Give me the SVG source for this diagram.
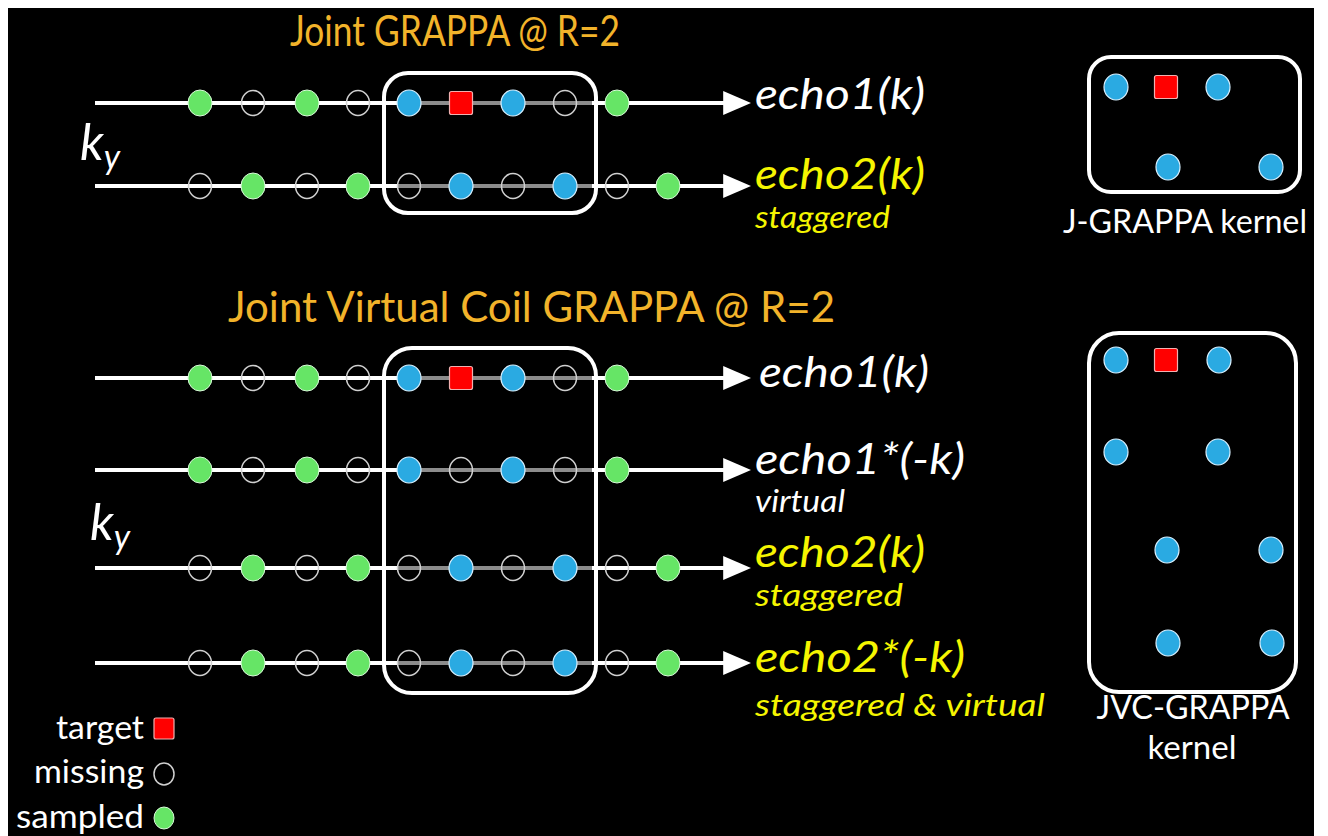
<svg xmlns="http://www.w3.org/2000/svg" width="1328" height="836" viewBox="0 0 1328 836">
  <defs>
    <style>
      .title { font-family: Lato, "Open Sans", sans-serif; fill: #F2B32A; }
      .lbl { font-family: Lato, "Open Sans", sans-serif; font-style: italic; font-size: 42px; }
      .sub { font-family: Lato, "Open Sans", sans-serif; font-style: italic; font-size: 30px; }
      .plain { font-family: Lato, "Open Sans", sans-serif; font-size: 33px; fill: #FFFFFF; }
      .ky { font-family: Lato, "Open Sans", sans-serif; font-style: italic; font-size: 50px; fill: #FFFFFF; }
      .axis { stroke: #FFFFFF; stroke-width: 4; fill: none; }
      .inner { stroke: #8C8C8C; stroke-width: 4; fill: none; }
      .win { stroke: #FFFFFF; stroke-width: 4; fill: none; }
      .s { fill: #66E566; stroke: #D8F8D8; stroke-width: 1; }
      .b { fill: #2AAAE2; stroke: #D8F0FF; stroke-width: 1.2; }
      .m { fill: none; stroke: #D0D0D0; stroke-width: 1.5; }
      .t { fill: #FF0000; stroke: #F0B0B0; stroke-width: 1.2; }
      .w { fill: #FFFFFF; }
      .y { fill: #F5F500; }
    </style>
    <marker id="arrow" markerWidth="7" markerHeight="6" refX="0.2" refY="3" orient="auto" markerUnits="strokeWidth">
      <path d="M0,0 L7,3 L0,6 Z" fill="#FFFFFF"/>
    </marker>
    <ellipse id="S" class="s" rx="12" ry="13"/>
    <ellipse id="B" class="b" rx="12" ry="13"/>
    <ellipse id="M" class="m" rx="11.5" ry="12.5"/>
    <rect id="T" class="t" x="-11.5" y="-11.5" width="23" height="23" rx="2"/>
  </defs>

  <rect x="0" y="0" width="1328" height="836" fill="#FFFFFF"/>
  <rect x="8" y="8" width="1306" height="828" fill="#000000"/>

  <!-- section titles -->
  <text class="title" x="290" y="46" font-size="42" textLength="330" lengthAdjust="spacingAndGlyphs">Joint GRAPPA @ R=2</text>
  <text class="title" x="228" y="322" font-size="42" textLength="607" lengthAdjust="spacingAndGlyphs">Joint Virtual Coil GRAPPA @ R=2</text>

  <!-- k-space lines -->
  <g id="connectors">
    <line class="axis" x1="95" y1="103" x2="724" y2="103" marker-end="url(#arrow)"/>
    <line class="axis" x1="95" y1="186" x2="724" y2="186" marker-end="url(#arrow)"/>
    <line class="axis" x1="95" y1="378" x2="724" y2="378" marker-end="url(#arrow)"/>
    <line class="axis" x1="95" y1="470" x2="724" y2="470" marker-end="url(#arrow)"/>
    <line class="axis" x1="95" y1="568" x2="724" y2="568" marker-end="url(#arrow)"/>
    <line class="axis" x1="95" y1="663" x2="724" y2="663" marker-end="url(#arrow)"/>
    <line class="inner" x1="398" y1="103" x2="592" y2="103"/>
    <line class="inner" x1="398" y1="186" x2="592" y2="186"/>
    <line class="inner" x1="398" y1="378" x2="592" y2="378"/>
    <line class="inner" x1="398" y1="470" x2="592" y2="470"/>
    <line class="inner" x1="398" y1="568" x2="592" y2="568"/>
    <line class="inner" x1="398" y1="663" x2="592" y2="663"/>
  </g>

  <!-- kernel windows on the lines -->
  <rect id="win-jgrappa" class="win" x="384" y="73" width="212" height="140" rx="24"/>
  <rect id="win-jvc" class="win" x="384" y="348" width="212" height="345" rx="28"/>

  <!-- J-GRAPPA: echo1(k) -->
  <g id="j-echo1">
    <use href="#S" x="200" y="103"/><use href="#M" x="253" y="103"/>
    <use href="#S" x="307" y="103"/><use href="#M" x="358" y="103"/>
    <use href="#B" x="409" y="103"/><use href="#T" x="461" y="103"/>
    <use href="#B" x="513" y="103"/><use href="#M" x="565" y="103"/>
    <use href="#S" x="617" y="103"/>
    <text class="lbl w" x="755" y="109" textLength="170" lengthAdjust="spacingAndGlyphs">echo1(k)</text>
  </g>
  <!-- J-GRAPPA: echo2(k) -->
  <g id="j-echo2">
    <use href="#M" x="200" y="186"/><use href="#S" x="253" y="186"/>
    <use href="#M" x="307" y="186"/><use href="#S" x="358" y="186"/>
    <use href="#M" x="409" y="186"/><use href="#B" x="461" y="186"/>
    <use href="#M" x="513" y="186"/><use href="#B" x="565" y="186"/>
    <use href="#M" x="617" y="186"/><use href="#S" x="668" y="186"/>
    <text class="lbl y" x="755" y="189" textLength="170" lengthAdjust="spacingAndGlyphs">echo2(k)</text>
    <text class="sub y" x="755" y="228" textLength="135" lengthAdjust="spacingAndGlyphs">staggered</text>
  </g>
  <text class="ky" x="80" y="160">k<tspan font-size="34" dy="9">y</tspan></text>

  <!-- J-GRAPPA kernel -->
  <g id="j-kernel">
    <rect class="win" x="1089" y="57" width="211" height="135" rx="22"/>
    <use href="#B" x="1116" y="87"/><use href="#T" x="1166" y="87"/>
    <use href="#B" x="1218" y="87"/>
    <use href="#B" x="1168" y="167"/><use href="#B" x="1271" y="167"/>
    <text class="plain" x="1185" y="233" text-anchor="middle" textLength="244" lengthAdjust="spacingAndGlyphs">J-GRAPPA kernel</text>
  </g>

  <!-- JVC-GRAPPA: echo1(k) -->
  <g id="jvc-echo1">
    <use href="#S" x="200" y="378"/><use href="#M" x="253" y="378"/>
    <use href="#S" x="307" y="378"/><use href="#M" x="358" y="378"/>
    <use href="#B" x="409" y="378"/><use href="#T" x="461" y="378"/>
    <use href="#B" x="513" y="378"/><use href="#M" x="565" y="378"/>
    <use href="#S" x="617" y="378"/>
    <text class="lbl w" x="759" y="387" textLength="170" lengthAdjust="spacingAndGlyphs">echo1(k)</text>
  </g>
  <!-- JVC-GRAPPA: echo1*(-k) -->
  <g id="jvc-echo1-virtual">
    <use href="#S" x="200" y="470"/><use href="#M" x="253" y="470"/>
    <use href="#S" x="307" y="470"/><use href="#M" x="358" y="470"/>
    <use href="#B" x="409" y="470"/><use href="#M" x="461" y="470"/>
    <use href="#B" x="513" y="470"/><use href="#M" x="565" y="470"/>
    <use href="#S" x="617" y="470"/>
    <text class="lbl w" x="755" y="474" textLength="210" lengthAdjust="spacingAndGlyphs">echo1*(-k)</text>
    <text class="sub w" x="755" y="512" textLength="90" lengthAdjust="spacingAndGlyphs">virtual</text>
  </g>
  <!-- JVC-GRAPPA: echo2(k) -->
  <g id="jvc-echo2">
    <use href="#M" x="200" y="568"/><use href="#S" x="253" y="568"/>
    <use href="#M" x="307" y="568"/><use href="#S" x="358" y="568"/>
    <use href="#M" x="409" y="568"/><use href="#B" x="461" y="568"/>
    <use href="#M" x="513" y="568"/><use href="#B" x="565" y="568"/>
    <use href="#M" x="617" y="568"/><use href="#S" x="668" y="568"/>
    <text class="lbl y" x="755" y="567" textLength="170" lengthAdjust="spacingAndGlyphs">echo2(k)</text>
    <text class="sub y" x="755" y="606" textLength="148" lengthAdjust="spacingAndGlyphs">staggered</text>
  </g>
  <!-- JVC-GRAPPA: echo2*(-k) -->
  <g id="jvc-echo2-virtual">
    <use href="#M" x="200" y="663"/><use href="#S" x="253" y="663"/>
    <use href="#M" x="307" y="663"/><use href="#S" x="358" y="663"/>
    <use href="#M" x="409" y="663"/><use href="#B" x="461" y="663"/>
    <use href="#M" x="513" y="663"/><use href="#B" x="565" y="663"/>
    <use href="#M" x="617" y="663"/><use href="#S" x="668" y="663"/>
    <text class="lbl y" x="755" y="672" textLength="210" lengthAdjust="spacingAndGlyphs">echo2*(-k)</text>
    <text class="sub y" x="755" y="716" textLength="290" lengthAdjust="spacingAndGlyphs">staggered &amp; virtual</text>
  </g>
  <text class="ky" x="90" y="540">k<tspan font-size="34" dy="9">y</tspan></text>

  <!-- JVC-GRAPPA kernel -->
  <g id="jvc-kernel">
    <rect class="win" x="1089" y="333" width="207" height="359" rx="30"/>
    <use href="#B" x="1116" y="360"/><use href="#T" x="1166" y="360"/>
    <use href="#B" x="1219" y="360"/>
    <use href="#B" x="1116" y="452"/><use href="#B" x="1218" y="452"/>
    <use href="#B" x="1167" y="550"/><use href="#B" x="1271" y="550"/>
    <use href="#B" x="1168" y="643"/><use href="#B" x="1272" y="643"/>
    <text class="plain" x="1193" y="719" text-anchor="middle" textLength="193" lengthAdjust="spacingAndGlyphs">JVC-GRAPPA</text>
    <text class="plain" x="1192" y="759" text-anchor="middle">kernel</text>
  </g>

  <!-- legend -->
  <g id="legend">
    <text class="plain" x="144" y="739" text-anchor="end" textLength="88" lengthAdjust="spacingAndGlyphs">target</text>
    <rect class="t" x="154" y="718" width="20" height="21" rx="2"/>
    <text class="plain" x="144" y="783" text-anchor="end" textLength="110" lengthAdjust="spacingAndGlyphs">missing</text>
    <ellipse class="m" cx="164" cy="774" rx="10" ry="11"/>
    <text class="plain" x="144" y="828" text-anchor="end" textLength="128" lengthAdjust="spacingAndGlyphs">sampled</text>
    <ellipse class="s" cx="164" cy="818" rx="10" ry="11"/>
  </g>
</svg>
